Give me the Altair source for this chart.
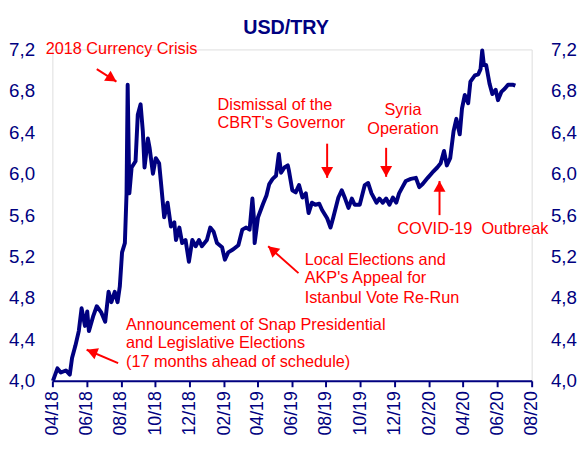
import altair as alt
import pandas as pd

# ---------------- data ----------------
dates = [
    "2018-04-02", "2018-04-10", "2018-04-16", "2018-04-25", "2018-05-02", "2018-05-06",
    "2018-05-12", "2018-05-18", "2018-05-23", "2018-05-29", "2018-06-02", "2018-06-05",
    "2018-06-13", "2018-06-19", "2018-06-27", "2018-07-04", "2018-07-10", "2018-07-15",
    "2018-07-21", "2018-07-26", "2018-07-30", "2018-08-03", "2018-08-08", "2018-08-11",
    "2018-08-13", "2018-08-16", "2018-08-20", "2018-08-27", "2018-08-31", "2018-09-05",
    "2018-09-09", "2018-09-12", "2018-09-18", "2018-09-21", "2018-09-27", "2018-10-02",
    "2018-10-08", "2018-10-11", "2018-10-17", "2018-10-23", "2018-10-29", "2018-11-04",
    "2018-11-07", "2018-11-13", "2018-11-18", "2018-11-24", "2018-11-30", "2018-12-06",
    "2018-12-12", "2018-12-18", "2018-12-23", "2019-01-01", "2019-01-07", "2019-01-13",
    "2019-01-19", "2019-01-28", "2019-02-02", "2019-02-08", "2019-02-17", "2019-02-26",
    "2019-03-05", "2019-03-12", "2019-03-18", "2019-03-23", "2019-03-26", "2019-03-27",
    "2019-04-02", "2019-04-11", "2019-04-17", "2019-04-22", "2019-04-28", "2019-05-04",
    "2019-05-09", "2019-05-13", "2019-05-19", "2019-05-25", "2019-05-27", "2019-06-02",
    "2019-06-08", "2019-06-14", "2019-06-20", "2019-06-26", "2019-07-01", "2019-07-07",
    "2019-07-13", "2019-07-20", "2019-07-25", "2019-08-03", "2019-08-09", "2019-08-14",
    "2019-08-23", "2019-08-29", "2019-09-04", "2019-09-10", "2019-09-16", "2019-09-21",
    "2019-09-30", "2019-10-09", "2019-10-15", "2019-10-21", "2019-10-30", "2019-11-04",
    "2019-11-10", "2019-11-16", "2019-11-22", "2019-11-28", "2019-12-04", "2019-12-09",
    "2019-12-15", "2019-12-21", "2019-12-30", "2020-01-08", "2020-01-14", "2020-01-20",
    "2020-01-29", "2020-02-06", "2020-02-15", "2020-02-21", "2020-02-27", "2020-03-03",
    "2020-03-09", "2020-03-15", "2020-03-20", "2020-03-26", "2020-03-30", "2020-04-04",
    "2020-04-10", "2020-04-14", "2020-04-22", "2020-04-28", "2020-05-02", "2020-05-05",
    "2020-05-08", "2020-05-12", "2020-05-18", "2020-05-23", "2020-05-29", "2020-06-02",
    "2020-06-08", "2020-06-14", "2020-06-20", "2020-06-28", "2020-07-03",
]
usdtry = [
    4.00, 4.12, 4.08, 4.10, 4.06, 4.22,
    4.34, 4.48, 4.70, 4.53, 4.67, 4.48,
    4.63, 4.72, 4.66, 4.57, 4.86, 4.76,
    4.86, 4.76, 4.91, 5.24, 5.33, 5.81,
    6.86, 5.81, 6.06, 6.12, 6.57, 6.67,
    6.41, 6.06, 6.34, 6.25, 6.00, 6.15,
    6.10, 5.93, 5.58, 5.72, 5.49, 5.53,
    5.36, 5.48, 5.33, 5.36, 5.15, 5.36,
    5.30, 5.36, 5.30, 5.36, 5.48, 5.44,
    5.33, 5.29, 5.17, 5.24, 5.27, 5.31,
    5.46, 5.48, 5.46, 5.76, 5.55, 5.33,
    5.58, 5.71, 5.79, 5.90, 5.95, 5.98,
    6.19, 6.01, 6.06, 6.08, 6.03, 5.84,
    5.82, 5.89, 5.77, 5.81, 5.62, 5.72,
    5.70, 5.71, 5.65, 5.57, 5.48, 5.58,
    5.77, 5.84, 5.76, 5.67, 5.76, 5.70,
    5.70, 5.89, 5.91, 5.81, 5.72, 5.76,
    5.72, 5.76, 5.70, 5.77, 5.72, 5.81,
    5.87, 5.93, 5.95, 5.96, 5.87, 5.90,
    5.96, 6.01, 6.06, 6.10, 6.22, 6.08,
    6.15, 6.41, 6.53, 6.38, 6.63, 6.76,
    6.68, 6.89, 6.95, 6.96, 7.01, 7.19,
    7.05, 7.05, 6.87, 6.77, 6.81, 6.71,
    6.79, 6.82, 6.86, 6.86, 6.85,
]

y_ticks = [4.0, 4.4, 4.8, 5.2, 5.6, 6.0, 6.4, 6.8, 7.2]
x_tick_months = [(2018, 4), (2018, 6), (2018, 8), (2018, 10), (2018, 12),
                 (2019, 2), (2019, 4), (2019, 6), (2019, 8), (2019, 10), (2019, 12),
                 (2020, 2), (2020, 4), (2020, 6), (2020, 8)]

# left-aligned annotation texts
note_text = ["2018 Currency Crisis",
             "Dismissal of the", "CBRT's Governor",
             "COVID-19\u00a0 Outbreak",
             "Local Elections and", "AKP's Appeal for", "Istanbul Vote Re-Run",
             "Announcement of Snap Presidential", "and Legislative Elections",
             "(17 months ahead of schedule)"]
note_date = ["2018-03-20",
             "2019-01-20", "2019-01-20",
             "2019-12-06",
             "2019-06-24", "2019-06-24", "2019-06-24",
             "2018-08-10", "2018-08-10", "2018-08-10"]
note_value = [7.20,
              6.66, 6.49,
              5.47,
              5.17, 4.99, 4.80,
              4.54, 4.36, 4.18]

# centred annotation texts
cnote_text = ["Syria", "Operation"]
cnote_date = ["2019-12-16", "2019-12-16"]
cnote_value = [6.61, 6.43]

# arrows: tail -> tip
arrow_from_date = ["2018-06-19", "2019-08-03", "2019-11-16", "2020-02-19", "2019-06-13", "2018-07-27"]
arrow_from_value = [7.01, 6.29, 6.25, 5.60, 5.04, 4.17]
arrow_to_date = ["2018-07-24", "2019-08-03", "2019-11-16", "2020-02-19", "2019-04-20", "2018-06-01"]
arrow_to_value = [6.89, 5.96, 5.97, 5.93, 5.30, 4.30]
arrow_angle = [123, 180, 180, 0, 311, 292]

# ---------------- chart ----------------
NAVY = "#000080"
RED = "#ff0000"
FONT = "Liberation Sans"

df = pd.DataFrame({"date": dates, "usdtry": usdtry})
notes = pd.DataFrame({"date": note_date, "value": note_value, "label": note_text})
cnotes = pd.DataFrame({"date": cnote_date, "value": cnote_value, "label": cnote_text})
arrows = pd.DataFrame({"d1": arrow_from_date, "v1": arrow_from_value,
                       "d2": arrow_to_date, "v2": arrow_to_value, "angle": arrow_angle})

x_scale = alt.Scale(type="utc", domain=[alt.DateTime(year=2018, month=4, date=1, utc=True),
                                        alt.DateTime(year=2020, month=8, date=1, utc=True)])
y_scale = alt.Scale(domain=[4.0, 7.2], zero=False, nice=False)

x_axis = alt.Axis(
    values=[alt.DateTime(year=y, month=m, date=1, utc=True) for y, m in x_tick_months],
    labelExpr="utcFormat(datum.value, '%m/%y')", labelAngle=270, labelFont=FONT,
    labelFontSize=18, labelColor=NAVY, domainColor=NAVY, domainWidth=2, tickColor=NAVY,
    tickWidth=2, tickSize=6, labelPadding=4, grid=False, labelOverlap=False, title=None,
)
label_expr = "replace(format(datum.value, '.1f'), '.', ',')"
left_axis = alt.Axis(values=y_ticks, labelExpr=label_expr, orient="left", domain=False,
                     ticks=False, grid=False, labelFont=FONT, labelFontSize=19,
                     labelColor=NAVY, labelPadding=18, title=None)
right_axis = alt.Axis(values=y_ticks, labelExpr=label_expr, orient="right", domain=False,
                      ticks=False, grid=False, labelFont=FONT, labelFontSize=19,
                      labelColor=NAVY, labelPadding=19, title=None)

line = alt.Chart(df).mark_line(color=NAVY, strokeWidth=4, strokeJoin="round").encode(
    x=alt.X("date:T", scale=x_scale, axis=x_axis),
    y=alt.Y("usdtry:Q", scale=y_scale, axis=left_axis),
)
right = alt.Chart(df).mark_line(opacity=0).encode(
    x=alt.X("date:T", scale=x_scale, axis=x_axis),
    y=alt.Y("usdtry:Q", scale=y_scale, axis=right_axis),
)

text_left = alt.Chart(notes).mark_text(
    align="left", baseline="middle", font=FONT, fontSize=16.5, color=RED
).encode(
    x=alt.X("date:T", scale=x_scale, axis=x_axis),
    y=alt.Y("value:Q", scale=y_scale, axis=None),
    text="label:N",
)
text_center = alt.Chart(cnotes).mark_text(
    align="center", baseline="middle", font=FONT, fontSize=16.5, color=RED
).encode(
    x=alt.X("date:T", scale=x_scale, axis=x_axis),
    y=alt.Y("value:Q", scale=y_scale, axis=None),
    text="label:N",
)
shafts = alt.Chart(arrows).mark_rule(color=RED, strokeWidth=2).encode(
    x=alt.X("d1:T", scale=x_scale, axis=x_axis),
    y=alt.Y("v1:Q", scale=y_scale, axis=None),
    x2="d2:T",
    y2="v2:Q",
)
heads = alt.Chart(arrows).mark_point(
    shape="M0,0L-0.55,1L0.55,1Z", filled=True, size=484, color=RED, opacity=1
).encode(
    x=alt.X("d2:T", scale=x_scale, axis=x_axis),
    y=alt.Y("v2:Q", scale=y_scale, axis=None),
    angle=alt.Angle("angle:Q", scale=None),
)

chart = alt.layer(line, right, shafts, heads, text_left, text_center).resolve_scale(
    y="independent"
).properties(
    width=486,
    height=336,
    padding={"left": 45, "top": 39, "right": 48, "bottom": 58},
    autosize=alt.AutoSizeParams(type="none"),
    title=alt.TitleParams("USD/TRY", font=FONT, fontSize=20, fontWeight="bold",
                          color=NAVY, anchor="middle", dx=-6, offset=3),
).configure_view(stroke=None).configure(background="white")

chart.save("out.html", embed_options={"renderer": "svg", "actions": False})
